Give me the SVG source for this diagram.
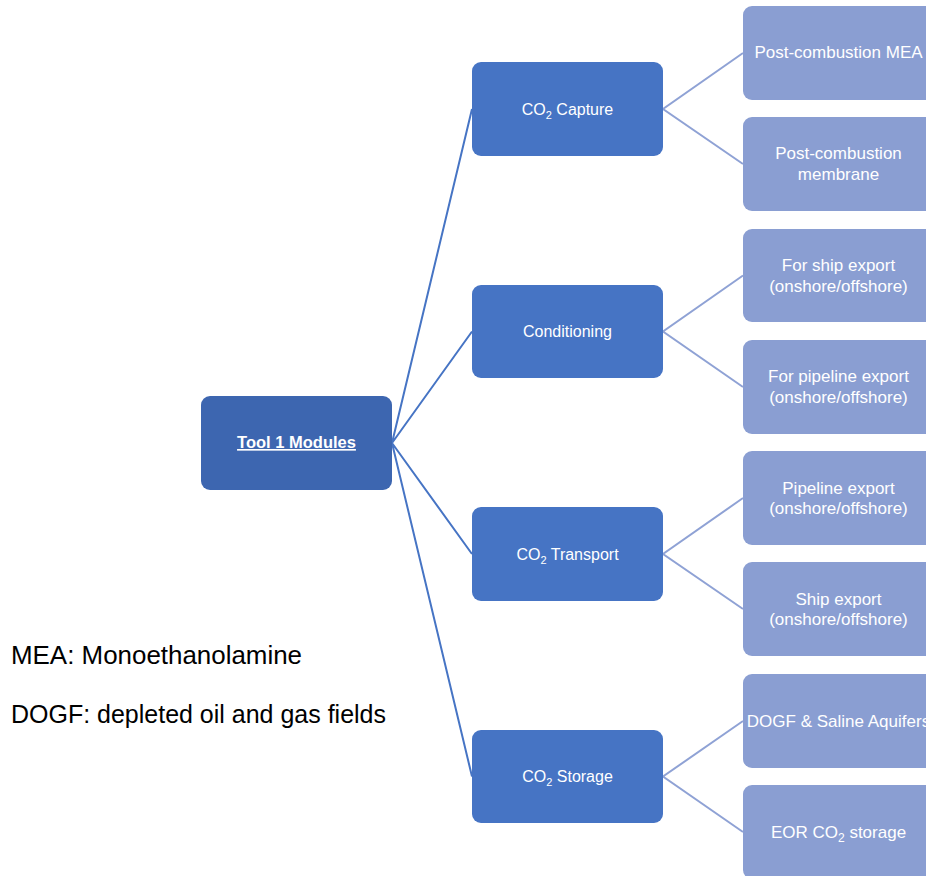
<svg xmlns="http://www.w3.org/2000/svg" width="926" height="876" viewBox="0 0 926 876">
<style>
.root{fill:#3D66B0}
.l1{fill:#4674C4}
.l2{fill:#8A9ED2}
.t{font-family:"Liberation Sans",Arial,sans-serif;fill:#fff;text-anchor:middle}
.t1{font-size:16px}
.t2{font-size:17px}
.c1{stroke:#4674C4;stroke-width:2;fill:none}
.c2{stroke:#8FA2D5;stroke-width:2;fill:none}
.note{font-family:"Liberation Sans",Arial,sans-serif;font-size:25px;fill:#000}
</style>
<rect width="926" height="876" fill="#fff"/>
<g id="connectors">
<path class="c1" d="M392,443 L472,109 M392,443 L472,331.5 M392,443 L472,554 M392,443 L472,776.5"/>
<path class="c2" d="M743,53 L663,109 L743,164 M743,275.5 L663,331.5 L743,387 M743,498 L663,554 L743,609 M743,721 L663,776.5 L743,832"/>
</g>
<g id="root">
<rect class="root" x="201" y="396" width="191" height="94" rx="9"/>
<text class="t" x="296.5" y="448" font-size="16.5" font-weight="bold" text-decoration="underline">Tool 1 Modules</text>
</g>
<g id="capture">
<rect class="l1" x="472" y="62" width="191" height="94" rx="9"/>
<text class="t t1" x="567.5" y="114.5">CO<tspan dy="4" font-size="11">2</tspan><tspan dy="-4"> Capture</tspan></text>
</g>
<g id="conditioning">
<rect class="l1" x="472" y="285" width="191" height="93" rx="9"/>
<text class="t t1" x="567.5" y="337">Conditioning</text>
</g>
<g id="transport">
<rect class="l1" x="472" y="507" width="191" height="94" rx="9"/>
<text class="t t1" x="567.5" y="559.5">CO<tspan dy="4" font-size="11">2</tspan><tspan dy="-4"> Transport</tspan></text>
</g>
<g id="storage">
<rect class="l1" x="472" y="730" width="191" height="93" rx="9"/>
<text class="t t1" x="567.5" y="782">CO<tspan dy="4" font-size="11">2</tspan><tspan dy="-4"> Storage</tspan></text>
</g>
<g id="mea">
<rect class="l2" x="743" y="6" width="191" height="94" rx="9"/>
<text class="t t2" x="838.5" y="58">Post-combustion MEA</text>
</g>
<g id="membrane">
<rect class="l2" x="743" y="117" width="191" height="94" rx="9"/>
<text class="t t2" x="838.5" y="159">Post-combustion</text>
<text class="t t2" x="838.5" y="180">membrane</text>
</g>
<g id="ship-cond">
<rect class="l2" x="743" y="229" width="191" height="93" rx="9"/>
<text class="t t2" x="838.5" y="271">For ship export</text>
<text class="t t2" x="838.5" y="292">(onshore/offshore)</text>
</g>
<g id="pipe-cond">
<rect class="l2" x="743" y="340" width="191" height="94" rx="9"/>
<text class="t t2" x="838.5" y="382">For pipeline export</text>
<text class="t t2" x="838.5" y="403">(onshore/offshore)</text>
</g>
<g id="pipe-trans">
<rect class="l2" x="743" y="451" width="191" height="94" rx="9"/>
<text class="t t2" x="838.5" y="494">Pipeline export</text>
<text class="t t2" x="838.5" y="514">(onshore/offshore)</text>
</g>
<g id="ship-trans">
<rect class="l2" x="743" y="562" width="191" height="94" rx="9"/>
<text class="t t2" x="838.5" y="605">Ship export</text>
<text class="t t2" x="838.5" y="625">(onshore/offshore)</text>
</g>
<g id="dogf">
<rect class="l2" x="743" y="674" width="191" height="94" rx="9"/>
<text class="t t2" x="838.5" y="727">DOGF &amp; Saline Aquifers</text>
</g>
<g id="eor">
<rect class="l2" x="743" y="785" width="191" height="94" rx="9"/>
<text class="t t2" x="838.5" y="838">EOR CO<tspan dy="4" font-size="12">2</tspan><tspan dy="-4"> storage</tspan></text>
</g>
<g id="notes">
<text class="note" x="11" y="664" textLength="291" lengthAdjust="spacingAndGlyphs">MEA: Monoethanolamine</text>
<text class="note" x="11" y="723" textLength="375" lengthAdjust="spacingAndGlyphs">DOGF: depleted oil and gas fields</text>
</g>
</svg>
